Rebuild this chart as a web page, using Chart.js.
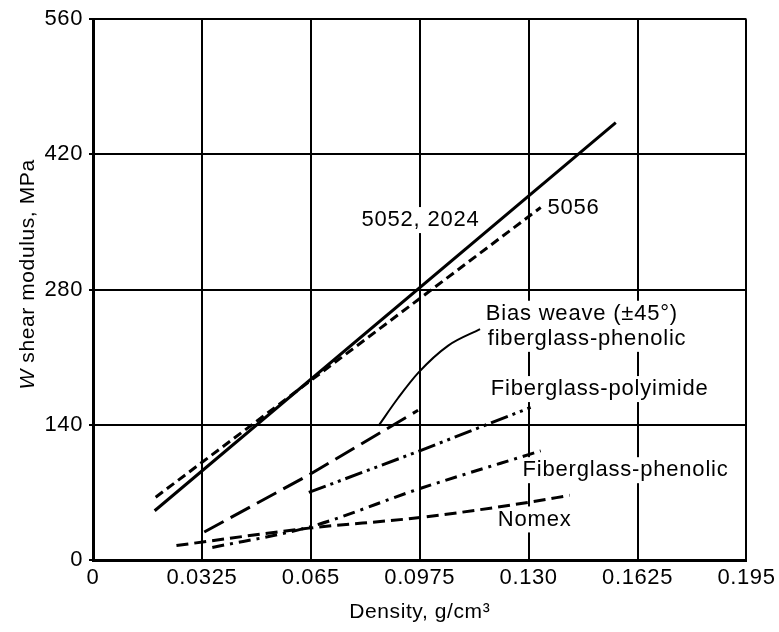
<!DOCTYPE html>
<html><head><meta charset="utf-8">
<script src="https://cdn.jsdelivr.net/npm/chart.js@4"></script>
<style>html,body{margin:0;padding:0;background:#fff}#wrap{width:779px;height:632px}</style>
</head><body>
<div id="wrap"><canvas id="c" width="779" height="632"></canvas></div>
<script>
// ---- tick values / labels ----
const xTicks = [0, 0.0325, 0.065, 0.0975, 0.130, 0.1625, 0.195];
const xTickLabels = ['0', '0.0325', '0.065', '0.0975', '0.130', '0.1625', '0.195'];
const yTicks = [0, 140, 280, 420, 560];

// ---- series (density g/cm3, W shear modulus MPa) ----
const al5052Density = [0.0184, 0.156];
const al5052Modulus = [51, 453];
const al5056Density = [0.0187, 0.1336];
const al5056Modulus = [65, 365];
const biasDensity = [0.0332, 0.0644, 0.097];
const biasModulus = [29, 88, 155];
const polyDensity = [0.0644, 0.0975, 0.1306];
const polyModulus = [70, 113, 158];
const phenDensity = [0.0356, 0.0644, 0.0976, 0.1336];
const phenModulus = [13, 34, 74, 113];
const nomexDensity = [0.0249, 0.0644, 0.0976, 0.1306, 0.1422];
const nomexModulus = [15, 33, 44, 60, 67];
const leaderDensity = [0.0852, 0.0911, 0.0971, 0.106, 0.1155];
const leaderModulus = [139, 168, 194, 222, 239];

// ---- annotation texts ----
const labelTexts = ['5052, 2024', '5056', 'Bias weave (\u00b145\u00b0)', 'fiberglass-phenolic', 'Fiberglass-polyimide', 'Fiberglass-phenolic', 'Nomex'];
const labelDensity = [0.0801, 0.1356, 0.1172, 0.1178, 0.1187, 0.1282, 0.1208];
const labelModulus = [352, 365, 255, 229, 177, 93, 42];

const yTitleItalic = 'W';
const yTitleRest = ' shear modulus, MPa';

const FONT = '"Liberation Sans", Arial, Helvetica, sans-serif';
const pts = (xs, ys) => xs.map((x, i) => ({x: x, y: ys[i]}));

function series(xs, ys, dash, width, curved) {
  return {
    data: pts(xs, ys),
    borderColor: '#000',
    backgroundColor: '#000',
    borderWidth: width,
    borderDash: dash,
    pointRadius: 0,
    fill: false,
    showLine: true,
    tension: 0,
    cubicInterpolationMode: curved ? 'monotone' : 'default',
    borderCapStyle: 'butt'
  };
}

const labelPlugin = {
  id: 'textLabels',
  beforeDraw(chart) {
    chart.ctx.letterSpacing = '0.6px';
  },
  beforeDatasetsDraw(chart) {
    const ctx = chart.ctx, xs = chart.scales.x, ys = chart.scales.y;
    ctx.save();
    ctx.letterSpacing = '0.8px';
    ctx.font = '22px ' + FONT;
    ctx.fillStyle = '#fff';
    labelTexts.forEach((t, i) => {
      const px = xs.getPixelForValue(labelDensity[i]);
      const py = ys.getPixelForValue(labelModulus[i]);
      const w = ctx.measureText(t).width;
      ctx.fillRect(px - 3, py - 13, w + 4, 26);
    });
    ctx.restore();
  },
  afterDatasetsDraw(chart) {
    const ctx = chart.ctx, xs = chart.scales.x, ys = chart.scales.y;
    ctx.save();
    ctx.letterSpacing = '0.8px';
    ctx.font = '22px ' + FONT;
    ctx.fillStyle = '#000';
    ctx.textAlign = 'left';
    ctx.textBaseline = 'middle';
    labelTexts.forEach((t, i) => {
      ctx.fillText(t, xs.getPixelForValue(labelDensity[i]), ys.getPixelForValue(labelModulus[i]));
    });
    ctx.restore();
  },
  afterDraw(chart) {
    // y-axis title with italic W
    const ctx = chart.ctx, ys = chart.scales.y, area = chart.chartArea;
    ctx.save();
    ctx.letterSpacing = '0.6px';
    ctx.fillStyle = '#000';
    ctx.textBaseline = 'middle';
    ctx.textAlign = 'left';
    const fi = 'italic 21px ' + FONT, fn = '21px ' + FONT;
    ctx.font = fi; const w1 = ctx.measureText(yTitleItalic).width;
    ctx.font = fn; const w2 = ctx.measureText(yTitleRest).width;
    const cy = area.top + (area.bottom - area.top) * 0.472;
    ctx.translate(ys.left + 28, cy);
    ctx.rotate(-Math.PI / 2);
    const start = -(w1 + w2) / 2;
    ctx.font = fi; ctx.fillText(yTitleItalic, start, 0);
    ctx.font = fn; ctx.fillText(yTitleRest, start + w1, 0);
    ctx.restore();
  }
};

new Chart(document.getElementById('c'), {
  type: 'scatter',
  data: {
    datasets: [
      series(al5052Density, al5052Modulus, [], 3, false),
      series(al5056Density, al5056Modulus, [9, 5], 3, false),
      series(biasDensity, biasModulus, [22, 8], 3, false),
      series(polyDensity, polyModulus, [18, 5, 3, 5, 3, 5], 3, false),
      series(phenDensity, phenModulus, [12, 6, 3, 6], 3, true),
      series(nomexDensity, nomexModulus, [12, 6], 3, true),
      series(leaderDensity, leaderModulus, [], 2, true)
    ]
  },
  options: {
    responsive: false,
    animation: false,
    devicePixelRatio: 1,
    layout: {padding: {left: 0, right: 29, top: 17, bottom: 0}},
    plugins: {legend: {display: false}, tooltip: {enabled: false}},
    scales: {
      x: {
        type: 'linear', min: 0, max: 0.195,
        afterBuildTicks: s => { s.ticks = xTicks.map(v => ({value: v})); },
        afterFit: s => { s.height = 72; },
        grid: {color: '#000', lineWidth: 2, drawTicks: false},
        border: {display: true, color: '#000', width: 3},
        ticks: {
          color: '#000', padding: 5, maxRotation: 0, autoSkip: false,
          font: {family: FONT, size: 22},
          callback: (v, i) => xTickLabels[i]
        },
        title: {display: true, text: 'Density, g/cm\u00b3', color: '#000',
          font: {family: FONT, size: 21}, padding: {top: 0, bottom: 7}}
      },
      y: {
        type: 'linear', min: 0, max: 560,
        afterBuildTicks: s => { s.ticks = yTicks.map(v => ({value: v})); },
        afterFit: s => { s.width = 93; },
        grid: {color: '#000', lineWidth: 2, drawTicks: true, tickLength: 4},
        border: {display: true, color: '#000', width: 3},
        ticks: {color: '#000', padding: 6, font: {family: FONT, size: 22}},
        title: {display: false}
      }
    }
  },
  plugins: [labelPlugin]
});
</script>
</body></html>
